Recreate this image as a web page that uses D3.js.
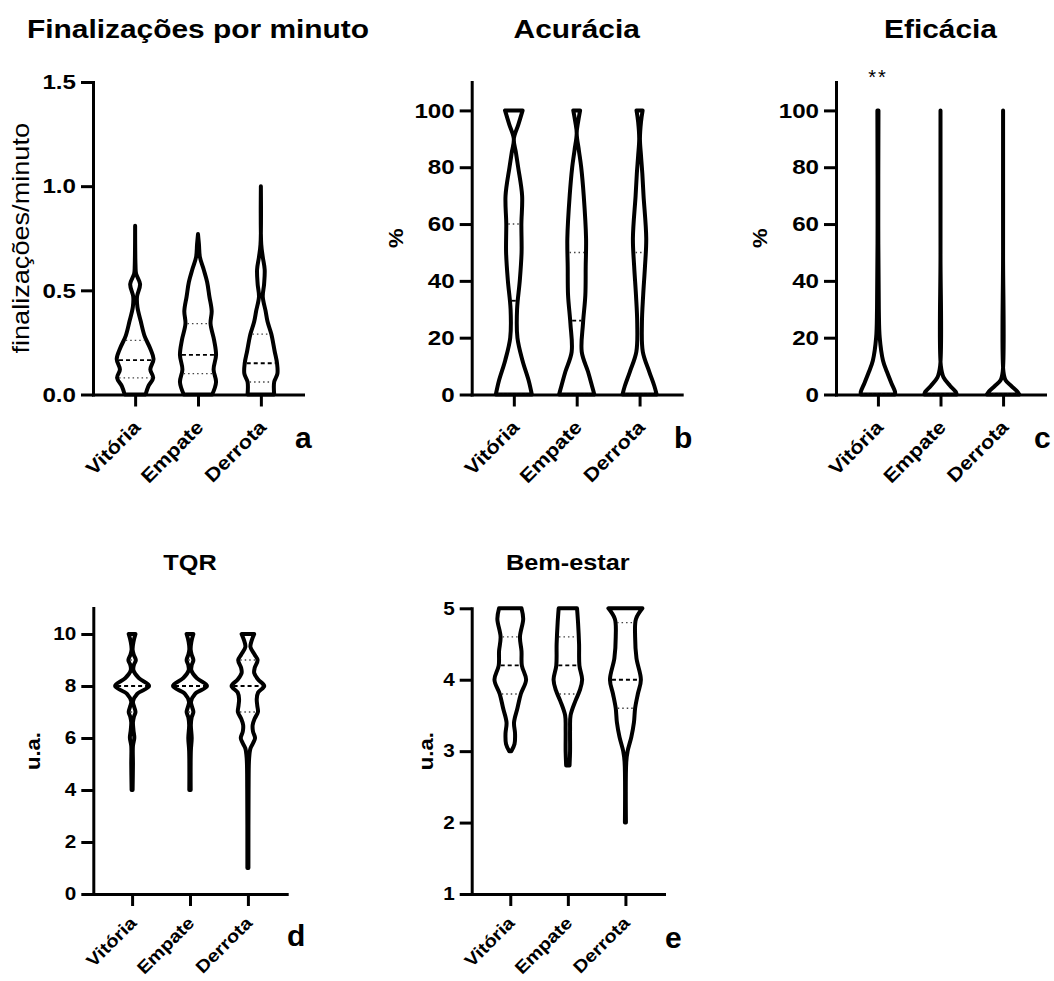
<!DOCTYPE html>
<html>
<head>
<meta charset="utf-8">
<script src="https://cdn.jsdelivr.net/npm/d3@7/dist/d3.min.js"></script>
<style>
  body { margin: 0; background: #fff; }
  svg { font-family: "Liberation Sans", Arial, Helvetica, sans-serif; }
</style>
</head>
<body>
<div id="chart"></div>
<script>
// grupos (resultado da partida)
var grupos = ["Vitória", "Empate", "Derrota"];

// perfis dos violinos: [valor, densidade relativa 0-1]
var finVitoria = [[0.81,0],[0.62,0.02],[0.58,0.05],[0.53,0.26],[0.47,0.1],[0.42,0.12],[0.35,0.3],[0.28,0.5],[0.22,0.8],[0.17,0.97],[0.12,0.8],[0.08,0.95],[0.04,0.7],[0,0.55]];
var finEmpate  = [[0.77,0],[0.72,0.05],[0.66,0.1],[0.6,0.3],[0.54,0.48],[0.47,0.6],[0.4,0.72],[0.34,0.66],[0.26,0.85],[0.19,0.95],[0.12,0.82],[0.06,0.95],[0,0.75]];
var finDerrota = [[1.0,0],[0.72,0.02],[0.66,0.1],[0.6,0.2],[0.53,0.17],[0.47,0.1],[0.4,0.25],[0.35,0.35],[0.29,0.55],[0.21,0.72],[0.15,0.85],[0.1,0.87],[0.06,0.7],[0,0.7]];
var finQuartis = [[0.08,0.165,0.26],[0.1,0.19,0.34],[0.06,0.15,0.29]];

var acuVitoria = [[100,0.49],[95,0.25],[90,0],[85,0.12],[80,0.24],[70,0.46],[60,0.42],[50,0.43],[40,0.33],[30,0.18],[20,0.2],[12,0.48],[5,0.82],[0,1.0]];
var acuEmpate  = [[100,0.19],[96,0.08],[92,0],[86,0.12],[80,0.25],[70,0.39],[55,0.52],[45,0.5],[35,0.48],[25,0.35],[15,0.28],[8,0.63],[3,0.85],[0,0.98]];
var acuDerrota = [[100,0.17],[96,0.08],[90,0.02],[84,0.08],[78,0.15],[70,0.22],[55,0.37],[45,0.3],[35,0.2],[25,0.13],[15,0.18],[8,0.54],[3,0.82],[0,0.95]];
var acuQuartis = [[0,33,60],[0,26,50],[0,26,50]];

var efiVitoria = [[100,0.03],[60,0.02],[30,0.05],[20,0.1],[12,0.28],[8,0.5],[4,0.75],[1,0.95],[0,0.95]];
var efiEmpate  = [[100,0],[50,0],[10,0.02],[6,0.17],[3,0.54],[1,0.84],[0,0.9]];
var efiDerrota = [[100,0],[50,0],[8,0.02],[5,0.14],[3,0.46],[1,0.8],[0,0.9]];
var efiQuartis = [[0,0,0],[0,0,0],[0,0,0]];

var tqrVitoria = [[10,0.2],[9.7,0.08],[9.4,0.03],[9.2,0.1],[9,0.22],[8.8,0.1],[8.6,0.08],[8.3,0.4],[8,1.0],[7.7,0.3],[7.4,0.05],[7.2,0.12],[7,0.2],[6.8,0.1],[6.6,0.05],[6.3,0.08],[6,0.13],[5.7,0.05],[5,0.05],[4,0.03]];
var tqrEmpate  = [[10,0.2],[9.7,0.08],[9.4,0.04],[9.2,0.1],[9,0.2],[8.8,0.1],[8.6,0.08],[8.3,0.4],[8,1.0],[7.7,0.3],[7.4,0.06],[7.2,0.12],[7,0.2],[6.8,0.1],[6.5,0.05],[6,0.1],[5.5,0.05],[4,0.04]];
var tqrDerrota = [[10,0.37],[9.7,0.2],[9.5,0.15],[9.2,0.4],[9,0.57],[8.7,0.4],[8.5,0.37],[8.25,0.6],[8,0.96],[7.75,0.6],[7.5,0.52],[7.25,0.55],[7,0.59],[6.75,0.4],[6.5,0.28],[6.25,0.3],[6,0.42],[5.8,0.3],[5.6,0.15],[5.2,0.07],[4,0.04],[1,0.03]];
var tqrQuartis = [[7,8,9],[7,8,9],[7,8,9]];

var bemVitoria = [[5,0.66],[4.85,0.76],[4.6,0.57],[4.4,0.66],[4.2,0.68],[4,0.93],[3.8,0.62],[3.6,0.42],[3.4,0.22],[3.25,0.28],[3.1,0.25],[3,0.06]];
var bemEmpate  = [[5,0.54],[4.8,0.6],[4.5,0.66],[4.2,0.68],[4,0.84],[3.85,0.7],[3.7,0.44],[3.5,0.16],[3.3,0.13],[3,0.13],[2.8,0.1]];
var bemDerrota = [[5,1.0],[4.85,0.62],[4.6,0.57],[4.3,0.65],[4,0.91],[3.8,0.73],[3.6,0.57],[3.4,0.5],[3.2,0.35],[3,0.13],[2.85,0.05],[2,0.03]];
var bemQuartis = [[3.8,4.2,4.6],[3.8,4.2,4.6],[3.6,4.0,4.8]];

// ticks
var finTicks = [0, 0.5, 1.0, 1.5];
var pctTicks = [0, 20, 40, 60, 80, 100];
var tqrTicks = [0, 2, 4, 6, 8, 10];
var bemTicks = [1, 2, 3, 4, 5];

var SX = 1.15; // largura da fonte no original
var svg = d3.select("#chart").append("svg")
  .attr("width", 1054)
  .attr("height", 981);

function txt(x, y, str, size, weight, rot, sx, anchor) {
  return svg.append("text")
    .attr("transform", "translate(" + x + "," + y + ") rotate(" + (rot || 0) + ") scale(" + (sx || 1) + ",1)")
    .attr("text-anchor", anchor || "middle")
    .attr("font-size", size)
    .attr("font-weight", weight)
    .text(str);
}

// meia largura interpolada no valor q
function halfAt(perfil, q) {
  for (var k = 0; k < perfil.length - 1; k++) {
    var a = perfil[k], b = perfil[k + 1];
    if (q <= a[0] && q >= b[0]) {
      var t = (a[0] - q) / (a[0] - b[0] || 1);
      return a[1] + t * (b[1] - a[1]);
    }
  }
  return 0;
}

function drawPanel(p) {
  var x = d3.scalePoint().domain(grupos).range([p.left, p.right]).padding(0.67);
  var y = d3.scaleLinear().domain(p.domain).range([p.bottom, p.top]);
  var w = d3.scaleLinear().domain([0, 1]).range([0, p.maxHW]);
  var g = svg.append("g");

  var area = d3.area()
    .curve(d3.curveCatmullRom.alpha(0.5))
    .y(function (d) { return y(d[0]); });

  p.perfis.forEach(function (perfil, i) {
    var cx = x(grupos[i]);
    area.x0(function (d) { return cx - w(d[1]); })
        .x1(function (d) { return cx + w(d[1]); });
    g.append("path")
      .attr("d", area(perfil))
      .attr("fill", "#fff")
      .attr("stroke", "#000")
      .attr("stroke-width", 4)
      .attr("stroke-linejoin", "round");

    p.quartis[i].forEach(function (q, j) {
      var hw = Math.max(0, w(halfAt(perfil, q)) - 2);
      if (hw < 1) return;
      g.append("line")
        .attr("x1", cx - hw).attr("x2", cx + hw)
        .attr("y1", y(q)).attr("y2", y(q))
        .attr("stroke", j == 1 ? "#000" : "#444")
        .attr("stroke-width", j == 1 ? 1.8 : 1.4)
        .attr("stroke-dasharray", j == 1 ? "4,3" : "1.5,3");
    });
  });

  var yAxis = d3.axisLeft(y)
    .tickValues(p.ticks)
    .tickFormat(p.fmt)
    .tickSize(12)
    .tickPadding(5)
    .tickSizeOuter(0);
  var ya = g.append("g")
    .attr("transform", "translate(" + p.left + ",0)")
    .call(yAxis);

  var xAxis = d3.axisBottom(x).tickSize(12).tickSizeOuter(0);
  var xa = g.append("g")
    .attr("transform", "translate(0," + p.bottom + ")")
    .call(xAxis);

  [ya, xa].forEach(function (ax) {
    ax.attr("font-family", null).attr("font-weight", "bold");
    ax.select(".domain").attr("stroke-width", 3).attr("stroke-linecap", "square");
    ax.selectAll(".tick line").attr("stroke-width", 3);
  });
  ya.attr("font-size", p.tickFont);
  ya.selectAll(".tick text")
    .attr("x", null)
    .attr("transform", "translate(-17,0) scale(" + SX + ",1)");

  xa.attr("font-size", p.catFont);
  xa.selectAll(".tick text")
    .attr("y", null).attr("dy", null)
    .attr("text-anchor", "end")
    .attr("transform", "translate(" + p.catDx + "," + p.catDy + ") rotate(-45) scale(" + SX + ",1)");

  // título, rótulo do eixo e letra do painel
  txt((p.left + p.right) / 2, p.titleY, p.title, p.titleFont, "bold", 0, SX);
  txt(p.labelX, (p.bottom + p.top) / 2, p.label, p.labelFont, p.labelWeight, -90, p.labelSX);
  txt(p.letterX, p.letterY, p.letter, 30, "bold", 0, 1, "start");
  return x;
}

drawPanel({
  left: 93, right: 303, bottom: 394.5, top: 82, domain: [0, 1.5],
  ticks: finTicks, fmt: d3.format(".1f"), maxHW: 19,
  perfis: [finVitoria, finEmpate, finDerrota], quartis: finQuartis,
  tickFont: 21, catFont: 19, catDx: 6, catDy: 34,
  title: "Finalizações por minuto", titleY: 38, titleFont: 26,
  label: "finalizações/minuto", labelX: 29, labelFont: 24, labelWeight: "normal", labelSX: 1.13,
  letter: "a", letterX: 295, letterY: 448
});

drawPanel({
  left: 471.7, right: 681.7, bottom: 394.5, top: 82, domain: [0, 110],
  ticks: pctTicks, fmt: d3.format("d"), maxHW: 18,
  perfis: [acuVitoria, acuEmpate, acuDerrota], quartis: acuQuartis,
  tickFont: 21, catFont: 19, catDx: 6, catDy: 34,
  title: "Acurácia", titleY: 38, titleFont: 26,
  label: "%", labelX: 403, labelFont: 21, labelWeight: "bold", labelSX: 1.05,
  letter: "b", letterX: 674, letterY: 448
});

var xc = drawPanel({
  left: 836, right: 1045, bottom: 394.5, top: 82, domain: [0, 110],
  ticks: pctTicks, fmt: d3.format("d"), maxHW: 18,
  perfis: [efiVitoria, efiEmpate, efiDerrota], quartis: efiQuartis,
  tickFont: 21, catFont: 19, catDx: 6, catDy: 34,
  title: "Eficácia", titleY: 38, titleFont: 26,
  label: "%", labelX: 767, labelFont: 21, labelWeight: "bold", labelSX: 1.05,
  letter: "c", letterX: 1034, letterY: 448
});
txt(xc("Vitória"), 84, "**", 20, "normal", 0, 1).attr("letter-spacing", 2);

drawPanel({
  left: 93.3, right: 286.7, bottom: 894, top: 608, domain: [0, 11],
  ticks: tqrTicks, fmt: d3.format("d"), maxHW: 17,
  perfis: [tqrVitoria, tqrEmpate, tqrDerrota], quartis: tqrQuartis,
  tickFont: 18, catFont: 17.5, catDx: 5, catDy: 30,
  title: "TQR", titleY: 570, titleFont: 22,
  label: "u.a.", labelX: 40, labelFont: 21, labelWeight: "bold", labelSX: 1.05,
  letter: "d", letterX: 287, letterY: 946
});

drawPanel({
  left: 471.7, right: 664, bottom: 894, top: 608.3, domain: [1, 5],
  ticks: bemTicks, fmt: d3.format("d"), maxHW: 17,
  perfis: [bemVitoria, bemEmpate, bemDerrota], quartis: bemQuartis,
  tickFont: 18, catFont: 17.5, catDx: 5, catDy: 30,
  title: "Bem-estar", titleY: 570, titleFont: 22,
  label: "u.a.", labelX: 433, labelFont: 21, labelWeight: "bold", labelSX: 1.05,
  letter: "e", letterX: 665, letterY: 948
});
</script>
</body>
</html>
